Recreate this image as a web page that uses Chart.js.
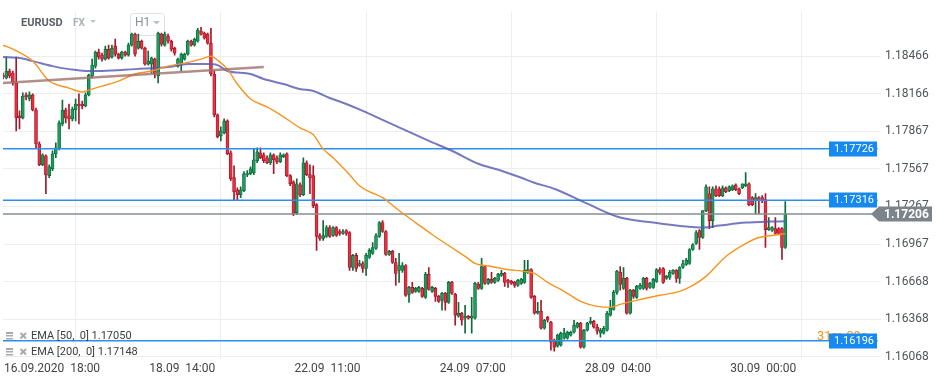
<!DOCTYPE html>
<html>
<head>
<meta charset="utf-8">
<script src="https://cdn.jsdelivr.net/npm/chart.js@4.4.0/dist/chart.umd.min.js"></script>
<style>
  html, body { margin: 0; padding: 0; background: #fff; }
  #wrap { position: relative; width: 945px; height: 383px; }
</style>
</head>
<body>
<div id="wrap"><canvas id="chart" width="945" height="383"></canvas></div>
<script>
"use strict";

// one slot per hourly candle, empty slots to the right of the last one
var slotCount = 267;
var tickAt = [0, 44, 88, 132, 176, 220];
var tickText = ["16.09.2020  18:00", "18.09  14:00", "22.09  11:00", "24.09  07:00", "28.09  04:00", "30.09  00:00"];
var priceTicks = [1.16068, 1.16368, 1.16668, 1.16967, 1.17267, 1.17567, 1.17867, 1.18166, 1.18466];

var open = [
  1.18315,1.18291,1.18347,1.18331,1.18251,1.17989,1.17973,1.18156,1.18124,1.18156,
  1.18036,1.17766,1.17599,1.17671,1.17512,1.17567,1.17687,1.17726,1.17925,1.18036,
  1.17989,1.17965,1.18036,1.18084,1.18084,1.18068,1.18156,1.18307,1.18386,1.18498,
  1.18474,1.18442,1.18521,1.18458,1.18545,1.18482,1.18450,1.18498,1.18474,1.18553,
  1.18641,1.18529,1.18585,1.18529,1.18402,1.18402,1.18442,1.18307,1.18641,1.18553,
  1.18625,1.18585,1.18529,1.18386,1.18402,1.18442,1.18482,1.18585,1.18553,1.18585,
  1.18665,1.18649,1.18641,1.18569,1.18323,1.17997,1.17830,1.17854,1.17949,1.17695,
  1.17496,1.17400,1.17361,1.17393,1.17520,1.17528,1.17536,1.17631,1.17695,1.17679,
  1.17655,1.17615,1.17679,1.17655,1.17623,1.17663,1.17687,1.17512,1.17464,1.17218,
  1.17440,1.17361,1.17615,1.17520,1.17512,1.17281,1.17035,1.17011,1.17027,1.17098,
  1.17035,1.17098,1.17067,1.17051,1.17075,1.17059,1.16780,1.16876,1.16796,1.16812,
  1.16772,1.16860,1.16892,1.16931,1.17027,1.17138,1.17067,1.16884,1.16908,1.16820,
  1.16757,1.16757,1.16796,1.16566,1.16621,1.16590,1.16590,1.16613,1.16542,1.16725,
  1.16590,1.16613,1.16550,1.16518,1.16574,1.16502,1.16661,1.16566,1.16391,1.16415,
  1.16375,1.16391,1.16375,1.16375,1.16645,1.16613,1.16788,1.16653,1.16685,1.16661,
  1.16677,1.16717,1.16733,1.16677,1.16669,1.16661,1.16637,1.16653,1.16661,1.16741,
  1.16764,1.16550,1.16415,1.16431,1.16295,1.16383,1.16343,1.16200,1.16152,1.16160,
  1.16216,1.16216,1.16240,1.16264,1.16303,1.16335,1.16144,1.16280,1.16335,1.16351,
  1.16303,1.16256,1.16256,1.16280,1.16399,1.16446,1.16582,1.16741,1.16613,1.16693,
  1.16415,1.16598,1.16542,1.16613,1.16613,1.16693,1.16621,1.16621,1.16669,1.16764,
  1.16772,1.16693,1.16701,1.16733,1.16757,1.16693,1.16780,1.16804,1.16812,1.16923,
  1.16971,1.17075,1.17019,1.17234,1.17369,1.17154,1.17408,1.17408,1.17353,1.17416,
  1.17393,1.17400,1.17440,1.17408,1.17416,1.17432,1.17448,1.17337,1.17313,1.17337,
  1.17337,1.17321,1.17082,1.17075,1.17090,1.17090,1.17090,1.16939
];
var high = [
  1.18331,1.18458,1.18362,1.18347,1.18458,1.18029,1.18172,1.18172,1.18180,1.18164,
  1.18052,1.17782,1.17687,1.17679,1.17599,1.17711,1.17774,1.17949,1.18116,1.18052,
  1.18084,1.18060,1.18124,1.18164,1.18108,1.18172,1.18323,1.18442,1.18506,1.18521,
  1.18490,1.18545,1.18553,1.18553,1.18601,1.18490,1.18506,1.18506,1.18569,1.18649,
  1.18649,1.18641,1.18593,1.18537,1.18506,1.18458,1.18450,1.18657,1.18649,1.18657,
  1.18641,1.18593,1.18537,1.18450,1.18490,1.18490,1.18593,1.18593,1.18609,1.18688,
  1.18696,1.18657,1.18649,1.18688,1.18347,1.18005,1.17901,1.17965,1.17957,1.17711,
  1.17591,1.17416,1.17424,1.17544,1.17552,1.17583,1.17726,1.17734,1.17734,1.17695,
  1.17671,1.17695,1.17687,1.17671,1.17695,1.17687,1.17695,1.17520,1.17472,1.17488,
  1.17456,1.17655,1.17631,1.17599,1.17591,1.17289,1.17051,1.17154,1.17114,1.17114,
  1.17106,1.17106,1.17082,1.17082,1.17082,1.17067,1.16884,1.16892,1.16836,1.16828,
  1.16892,1.16931,1.16979,1.17051,1.17146,1.17154,1.17075,1.16916,1.16916,1.16852,
  1.16892,1.16820,1.16804,1.16629,1.16661,1.16621,1.16629,1.16621,1.16741,1.16780,
  1.16629,1.16621,1.16558,1.16582,1.16582,1.16669,1.16669,1.16574,1.16502,1.16423,
  1.16478,1.16399,1.16542,1.16661,1.16661,1.16852,1.16796,1.16693,1.16741,1.16701,
  1.16733,1.16757,1.16741,1.16685,1.16677,1.16669,1.16685,1.16693,1.16836,1.16836,
  1.16772,1.16558,1.16502,1.16518,1.16367,1.16391,1.16351,1.16208,1.16248,1.16264,
  1.16295,1.16272,1.16272,1.16359,1.16343,1.16343,1.16287,1.16343,1.16383,1.16359,
  1.16327,1.16295,1.16311,1.16431,1.16518,1.16598,1.16757,1.16788,1.16780,1.16701,
  1.16605,1.16605,1.16637,1.16653,1.16701,1.16701,1.16661,1.16693,1.16772,1.16780,
  1.16780,1.16717,1.16757,1.16764,1.16764,1.16788,1.16836,1.16852,1.16931,1.16971,
  1.17075,1.17082,1.17234,1.17440,1.17424,1.17424,1.17432,1.17424,1.17432,1.17424,
  1.17432,1.17440,1.17448,1.17416,1.17448,1.17536,1.17456,1.17345,1.17369,1.17345,
  1.17353,1.17369,1.17178,1.17106,1.17178,1.17098,1.17098,1.17305
];
var low = [
  1.18283,1.18283,1.18291,1.18235,1.17870,1.17885,1.17965,1.18116,1.18108,1.18029,
  1.17734,1.17591,1.17591,1.17369,1.17496,1.17552,1.17655,1.17718,1.17909,1.17933,
  1.17885,1.17949,1.17949,1.17925,1.18044,1.18060,1.18148,1.18291,1.18370,1.18442,
  1.18426,1.18434,1.18442,1.18450,1.18466,1.18442,1.18442,1.18466,1.18466,1.18545,
  1.18466,1.18521,1.18521,1.18394,1.18394,1.18331,1.18291,1.18251,1.18545,1.18545,
  1.18569,1.18506,1.18474,1.18378,1.18347,1.18434,1.18474,1.18545,1.18545,1.18577,
  1.18633,1.18601,1.18561,1.18307,1.17981,1.17814,1.17790,1.17846,1.17679,1.17472,
  1.17313,1.17313,1.17337,1.17385,1.17504,1.17520,1.17520,1.17615,1.17647,1.17615,
  1.17607,1.17599,1.17528,1.17607,1.17615,1.17655,1.17504,1.17432,1.17194,1.17202,
  1.17345,1.17353,1.17512,1.17369,1.17257,1.16916,1.16995,1.16995,1.17019,1.17019,
  1.17027,1.17027,1.17035,1.17043,1.17035,1.16757,1.16757,1.16749,1.16788,1.16741,
  1.16717,1.16852,1.16884,1.16923,1.17019,1.17059,1.16876,1.16876,1.16812,1.16637,
  1.16661,1.16741,1.16550,1.16502,1.16574,1.16582,1.16582,1.16542,1.16534,1.16598,
  1.16582,1.16510,1.16502,1.16439,1.16439,1.16494,1.16566,1.16319,1.16383,1.16319,
  1.16256,1.16367,1.16256,1.16367,1.16605,1.16605,1.16645,1.16645,1.16653,1.16653,
  1.16669,1.16709,1.16629,1.16621,1.16645,1.16621,1.16629,1.16645,1.16653,1.16733,
  1.16534,1.16407,1.16407,1.16287,1.16287,1.16343,1.16121,1.16113,1.16144,1.16152,
  1.16208,1.16208,1.16232,1.16256,1.16295,1.16136,1.16136,1.16272,1.16327,1.16295,
  1.16248,1.16224,1.16248,1.16272,1.16391,1.16439,1.16566,1.16598,1.16605,1.16407,
  1.16407,1.16534,1.16534,1.16605,1.16605,1.16598,1.16613,1.16613,1.16661,1.16725,
  1.16653,1.16685,1.16685,1.16725,1.16661,1.16653,1.16772,1.16796,1.16804,1.16916,
  1.16963,1.16923,1.17011,1.17226,1.17090,1.17098,1.17345,1.17345,1.17345,1.17377,
  1.17385,1.17393,1.17393,1.17361,1.17408,1.17424,1.17273,1.17273,1.17210,1.17210,
  1.17297,1.16939,1.17075,1.17067,1.17043,1.17043,1.16844,1.16931
];
var close = [
  1.18299,1.18347,1.18307,1.18251,1.17973,1.17973,1.18148,1.18140,1.18156,1.18036,
  1.17766,1.17599,1.17679,1.17520,1.17583,1.17687,1.17734,1.17933,1.18036,1.17973,
  1.17965,1.18044,1.18084,1.18068,1.18068,1.18156,1.18315,1.18394,1.18498,1.18458,
  1.18442,1.18521,1.18450,1.18529,1.18482,1.18450,1.18498,1.18474,1.18553,1.18641,
  1.18482,1.18585,1.18529,1.18402,1.18426,1.18450,1.18323,1.18649,1.18561,1.18641,
  1.18585,1.18521,1.18490,1.18442,1.18482,1.18482,1.18585,1.18553,1.18601,1.18672,
  1.18641,1.18609,1.18569,1.18323,1.17997,1.17822,1.17870,1.17949,1.17687,1.17488,
  1.17385,1.17361,1.17400,1.17528,1.17528,1.17567,1.17639,1.17703,1.17655,1.17631,
  1.17615,1.17679,1.17639,1.17623,1.17679,1.17679,1.17512,1.17448,1.17210,1.17448,
  1.17361,1.17615,1.17520,1.17496,1.17273,1.17027,1.17011,1.17035,1.17098,1.17027,
  1.17098,1.17035,1.17051,1.17067,1.17051,1.16780,1.16876,1.16772,1.16812,1.16772,
  1.16876,1.16916,1.16939,1.17035,1.17138,1.17067,1.16884,1.16908,1.16820,1.16733,
  1.16796,1.16796,1.16558,1.16621,1.16582,1.16613,1.16621,1.16550,1.16725,1.16605,
  1.16621,1.16550,1.16510,1.16574,1.16502,1.16661,1.16574,1.16399,1.16415,1.16359,
  1.16391,1.16375,1.16391,1.16653,1.16613,1.16788,1.16653,1.16685,1.16661,1.16693,
  1.16725,1.16733,1.16661,1.16661,1.16653,1.16637,1.16677,1.16685,1.16757,1.16764,
  1.16542,1.16415,1.16431,1.16295,1.16359,1.16359,1.16184,1.16144,1.16240,1.16256,
  1.16256,1.16264,1.16264,1.16319,1.16335,1.16144,1.16280,1.16335,1.16351,1.16303,
  1.16272,1.16280,1.16295,1.16415,1.16454,1.16582,1.16749,1.16645,1.16693,1.16415,
  1.16598,1.16550,1.16629,1.16637,1.16693,1.16613,1.16653,1.16685,1.16764,1.16741,
  1.16661,1.16709,1.16741,1.16757,1.16693,1.16780,1.16812,1.16836,1.16923,1.16963,
  1.17059,1.17019,1.17234,1.17424,1.17154,1.17408,1.17353,1.17353,1.17416,1.17385,
  1.17424,1.17432,1.17400,1.17369,1.17448,1.17448,1.17281,1.17281,1.17337,1.17313,
  1.17313,1.17082,1.17098,1.17098,1.17051,1.17051,1.16939,1.17206
];

// EMA curves at a few candles
var ema50At = [0,3,9,14,20,24,26,30,35,40,45,50,55,60,63,65,68,71,75,80,85,90,94,97,100,105,108,111,115,120,
  125,130,135,140,143,148,153,158,161,165,170,175,180,184,187,192,199,205,209,213,219,225,229,233,237];
var ema50 = [1.18553,1.18521,1.18426,1.18267,1.18211,1.18180,1.18195,1.18227,1.18267,1.18323,1.18347,1.18386,
  1.18410,1.18442,1.18466,1.18434,1.18362,1.18243,1.18124,1.18060,1.17981,1.17893,1.17838,1.17726,1.17655,
  1.17520,1.17432,1.17385,1.17337,1.17234,1.17138,1.17043,1.16955,1.16868,1.16812,1.16788,1.16764,1.16749,
  1.16733,1.16661,1.16590,1.16510,1.16470,1.16462,1.16486,1.16518,1.16558,1.16590,1.16637,1.16709,1.16868,
  1.16971,1.17019,1.17035,1.17050];
var ema200At = [0,5,9,15,20,25,30,40,50,56,62,65,68,75,79,85,90,94,99,104,109,115,119,129,136,144,151,157,
  161,167,177,187,197,207,212,217,225,232,237];
var ema200 = [1.18458,1.18450,1.18426,1.18386,1.18362,1.18347,1.18347,1.18362,1.18378,1.18402,1.18402,1.18394,
  1.18347,1.18323,1.18283,1.18243,1.18203,1.18188,1.18132,1.18084,1.18029,1.17957,1.17909,1.17790,1.17711,
  1.17607,1.17552,1.17496,1.17456,1.17408,1.17289,1.17178,1.17138,1.17106,1.17098,1.17114,1.17138,1.17146,
  1.17148];
var trendAt = [0, 79];
var trend = [1.18251, 1.18378];

var levels = [1.17726, 1.17316, 1.16196];
var lastPrice = 1.17206;
var countdown = "31m 09s";
var legendRows = ["EMA [50,  0] 1.17050", "EMA [200,  0] 1.17148"];

var UP = "#1c9c5e", UP_DK = "#0c6b3b", DN = "#e8303f", DN_DK = "#a5172a";
var FONT = "Roboto";

function pts(at, vals) {
  return at.map(function(x, k) { return { x: x, y: vals[k] }; });
}
function isUp(i) { return close[i] >= open[i]; }

var wickData = low.map(function(l, i) { return { x: i, y: [l, high[i]] }; });
var bodyData = open.map(function(o, i) { return { x: i, y: [o, close[i]] }; });

var datasets = [
  {
    type: "bar", data: wickData, grouped: false, barThickness: 1, order: 20,
    backgroundColor: wickData.map(function(d, i) { return isUp(i) ? UP_DK : DN_DK; }),
    borderWidth: 0
  },
  {
    type: "bar", data: bodyData, grouped: false, barThickness: 3, minBarLength: 1, order: 19,
    backgroundColor: bodyData.map(function(d, i) { return isUp(i) ? UP : DN; }),
    borderColor: bodyData.map(function(d, i) { return isUp(i) ? UP_DK : DN_DK; }),
    borderWidth: 0.8, borderSkipped: false
  }
];
levels.forEach(function(v) {
  datasets.push({ type: "line", data: pts([0, 265], [v, v]), borderColor: "#2b8ef0", borderWidth: 1.5,
    pointRadius: 0, order: 5 });
});
datasets.push({ type: "line", data: pts([0, 266], [lastPrice, lastPrice]), borderColor: "#858c92",
  borderWidth: 1.5, pointRadius: 0, order: 4 });
datasets.push({ type: "line", data: pts(ema200At, ema200), borderColor: "rgba(84,88,178,0.8)", borderWidth: 2,
  pointRadius: 0, cubicInterpolationMode: "monotone", order: 2 });
datasets.push({ type: "line", data: pts(ema50At, ema50), borderColor: "#f7941d", borderWidth: 1.4,
  pointRadius: 0, cubicInterpolationMode: "monotone", order: 1 });
datasets.push({ type: "line", data: pts(trendAt, trend), borderColor: "rgba(160,112,106,0.8)", borderWidth: 2.5,
  pointRadius: 0, order: 0 });

function tri(ctx, x, y, w, h, color) {
  ctx.fillStyle = color;
  ctx.beginPath();
  ctx.moveTo(x, y); ctx.lineTo(x + w, y); ctx.lineTo(x + w / 2, y + h);
  ctx.closePath(); ctx.fill();
}

var overlay = {
  id: "overlay",
  beforeDatasetsDraw: function(chart) {
    var ctx = chart.ctx;
    ctx.save();
    ctx.textBaseline = "middle";
    ctx.font = "bold 11px " + FONT; ctx.fillStyle = "#596067";
    ctx.fillText("EURUSD", 21, 23);
    ctx.font = "bold 10px " + FONT; ctx.fillStyle = "#aab1b7";
    ctx.fillText("FX", 73, 23);
    tri(ctx, 90, 20, 6, 3, "#bcc2c7");
    ctx.strokeStyle = "#dde1e4"; ctx.lineWidth = 1;
    ctx.beginPath(); ctx.roundRect(130.5, 13.5, 34, 22, 3); ctx.stroke();
    ctx.font = "12px " + FONT; ctx.fillStyle = "#8a9197";
    ctx.fillText("H1", 135, 23);
    tri(ctx, 153, 21, 7, 3.5, "#bcc2c7");
    ctx.restore();
  },
  afterDraw: function(chart) {
    var ctx = chart.ctx, ys = chart.scales.y;
    ctx.save();
    ctx.textBaseline = "middle";

    // countdown sits behind the lowest level box
    var yLow = ys.getPixelForValue(levels[2]);
    ctx.font = "13px " + FONT; ctx.fillStyle = "#f7941d";
    ctx.fillText(countdown, 817, yLow - 4);

    levels.forEach(function(v) {
      var y = Math.round(ys.getPixelForValue(v));
      ctx.fillStyle = "#1589f0";
      ctx.fillRect(829, y - 7.5, 48, 15);
      ctx.font = "11px " + FONT; ctx.fillStyle = "#fff";
      ctx.fillText(v.toFixed(5), 834, y);
    });

    var yp = Math.round(ys.getPixelForValue(lastPrice));
    ctx.fillStyle = "#7b848b";
    ctx.beginPath();
    ctx.moveTo(871, yp); ctx.lineTo(879, yp - 7.5); ctx.lineTo(932, yp - 7.5);
    ctx.lineTo(932, yp + 7.5); ctx.lineTo(879, yp + 7.5); ctx.closePath(); ctx.fill();
    ctx.font = "bold 12px " + FONT; ctx.fillStyle = "#fff";
    ctx.fillText(lastPrice.toFixed(5), 884, yp + 0.5);

    // indicator legend, bottom left
    legendRows.forEach(function(txt, k) {
      var y = 336 + k * 16;
      ctx.fillStyle = "#a3a9ae";
      ctx.fillRect(6, y - 4, 7, 2);
      ctx.fillRect(6, y - 1, 7, 1.5);
      ctx.fillRect(6, y + 2, 7, 1.5);
      ctx.strokeStyle = "#a3a9ae"; ctx.lineWidth = 1.8;
      ctx.beginPath();
      ctx.moveTo(20.5, y - 3); ctx.lineTo(26, y + 2.5);
      ctx.moveTo(26, y - 3); ctx.lineTo(20.5, y + 2.5);
      ctx.stroke();
      ctx.font = "11px " + FONT; ctx.fillStyle = "#3c4043";
      ctx.fillText(txt, 31, y + 0.5);
    });
    ctx.restore();
  }
};

new Chart(document.getElementById("chart").getContext("2d"), {
  type: "bar",
  data: { datasets: datasets },
  plugins: [overlay],
  options: {
    responsive: false,
    animation: false,
    devicePixelRatio: 1,
    layout: { padding: { left: 1, top: 10, right: 0, bottom: 0 } },
    plugins: { legend: { display: false }, tooltip: { enabled: false } },
    scales: {
      x: {
        type: "linear", min: 0, max: slotCount - 1, offset: false,
        afterBuildTicks: function(s) { s.ticks = tickAt.map(function(v) { return { value: v }; }); },
        afterFit: function(s) { s.height = 24; },
        ticks: {
          autoSkip: false, maxRotation: 0, minRotation: 0, align: "start", padding: 3, labelOffset: 1,
          color: "#444", font: { family: FONT, size: 12 },
          callback: function(v) { var k = tickAt.indexOf(v); return k < 0 ? "" : tickText[k]; }
        },
        grid: { color: "#eceef0", drawTicks: false },
        border: { display: false }
      },
      y: {
        position: "right", min: 1.16050, max: 1.18824,
        afterBuildTicks: function(s) { s.ticks = priceTicks.map(function(v) { return { value: v }; }); },
        afterFit: function(s) { s.width = 64; },
        ticks: {
          padding: 4, color: "#505559", font: { family: FONT, size: 12 },
          callback: function(v) { return v.toFixed(5); }
        },
        grid: { color: "#eceef0", drawTicks: false },
        border: { display: false }
      }
    }
  }
});
</script>
</body>
</html>
